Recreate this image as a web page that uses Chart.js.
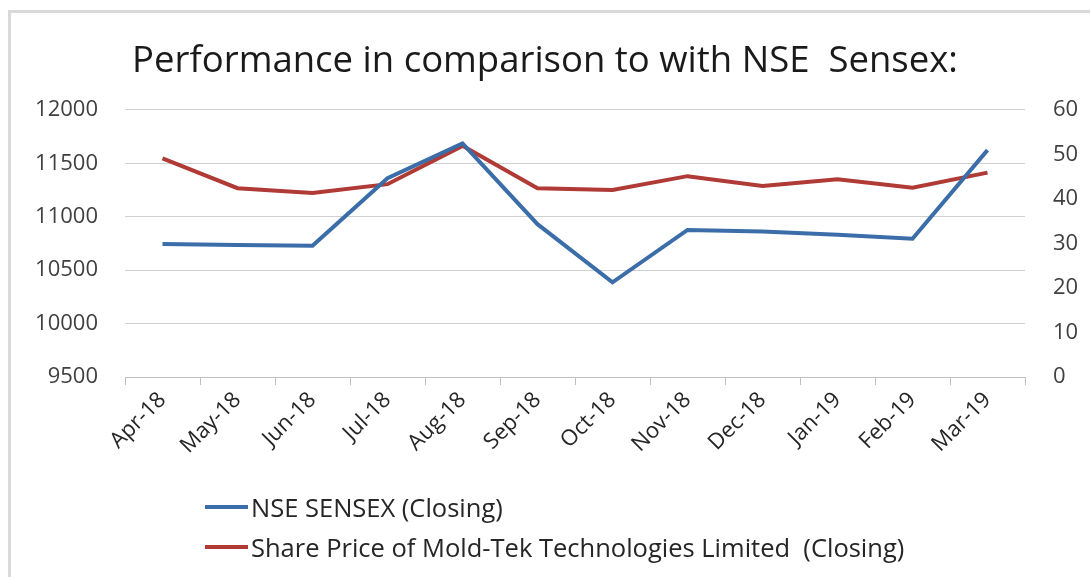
<!DOCTYPE html>
<html>
<head>
<meta charset="utf-8">
<script src="https://cdn.jsdelivr.net/npm/chart.js@4.4.1/dist/chart.umd.min.js"></script>
<style>
    html, body { margin: 0; padding: 0; background: #fff; }
    body { width: 1090px; height: 577px; overflow: hidden; position: relative; }
    .frame {
        position: absolute; left: 8px; top: 10px; width: 1200px; height: 700px;
        border-left: 3px solid #d9d9d9; border-top: 3px solid #d9d9d9;
    }
    #chartBox { position: absolute; left: 0; top: 0; width: 1090px; height: 577px; }
    #legend { position: absolute; left: 205px; top: 487px; font-family: "Open Sans", sans-serif; font-size: 25.5px; color: #262626; }
    .leg-row { display: flex; align-items: center; height: 40px; }
    .leg-line { width: 43px; height: 4px; margin-right: 3px; }
</style>
</head>
<body>
<div class="frame"></div>
<div id="chartBox"><canvas id="perfChart"></canvas></div>
<div id="legend"></div>
<script>
// Meses del eje X
const months = ["Apr-18", "May-18", "Jun-18", "Jul-18", "Aug-18", "Sep-18",
                "Oct-18", "Nov-18", "Dec-18", "Jan-19", "Feb-19", "Mar-19"];

// Cierre del NSE Sensex (eje izquierdo)
const sensexClose = [10745, 10736, 10727, 11360, 11685, 10930, 10386, 10876, 10862, 10831, 10793, 11623];

// Precio de la acción de Mold-Tek (eje derecho)
const moldTekClose = [49.1, 42.4, 41.3, 43.3, 51.9, 42.4, 42.0, 45.1, 42.9, 44.4, 42.5, 45.9];

// Marcas de los ejes
const leftTicks = [9500, 10000, 10500, 11000, 11500, 12000];
const rightTicks = [0, 10, 20, 30, 40, 50, 60];

const chartTitle = "Performance in comparison to with NSE  Sensex:";
const sensexLabel = "NSE SENSEX (Closing)";
const moldTekLabel = "Share Price of Mold-Tek Technologies Limited  (Closing)";

const blue = "#3b6ea9";
const red = "#b03a35";
const yFont = { family: "Open Sans", size: 22 };
const xFont = { family: "Open Sans", size: 22 };

const ctx = document.getElementById("perfChart").getContext("2d");

const chart = new Chart(ctx, {
    type: "line",
    data: {
        labels: months,
        datasets: [
            {
                label: sensexLabel,
                data: sensexClose,
                borderColor: blue,
                backgroundColor: blue,
                borderWidth: 4,
                pointRadius: 0,
                tension: 0,
                yAxisID: "y"
            },
            {
                label: moldTekLabel,
                data: moldTekClose,
                borderColor: red,
                backgroundColor: red,
                borderWidth: 4,
                pointRadius: 0,
                tension: 0,
                yAxisID: "y1"
            }
        ]
    },
    options: {
        responsive: true,
        maintainAspectRatio: false,
        animation: false,
        layout: { padding: { left: 0, right: 0, top: 0, bottom: 0 } },
        plugins: {
            legend: { display: false },
            tooltip: { enabled: false },
            title: {
                display: true,
                text: chartTitle,
                color: "#1a1a1a",
                font: { family: "Open Sans", size: 36.5, weight: "normal" },
                padding: { top: 40, bottom: 26 }
            }
        },
        scales: {
            x: {
                offset: true,
                grid: {
                    offset: true,
                    drawOnChartArea: false,
                    drawTicks: true,
                    tickLength: 8,
                    color: "#bfbfbf"
                },
                border: { display: true, color: "#bfbfbf", width: 1 },
                ticks: {
                    color: "#262626",
                    font: xFont,
                    maxRotation: 45,
                    minRotation: 45,
                    padding: 2,
                    autoSkip: false
                },
                afterFit: s => { s.height = 200; }
            },
            y: {
                position: "left",
                min: leftTicks[0],
                max: leftTicks[leftTicks.length - 1],
                afterBuildTicks: s => { s.ticks = leftTicks.map(v => ({ value: v })); },
                grid: { color: "#d0d0d0", drawTicks: false },
                border: { display: false },
                ticks: {
                    color: "#404040",
                    font: yFont,
                    padding: 27,
                    callback: v => String(v)
                },
                afterFit: s => { s.width = 125; }
            },
            y1: {
                position: "right",
                min: rightTicks[0],
                max: rightTicks[rightTicks.length - 1],
                afterBuildTicks: s => { s.ticks = rightTicks.map(v => ({ value: v })); },
                grid: { display: false, drawTicks: false },
                border: { display: false },
                ticks: {
                    color: "#404040",
                    font: yFont,
                    padding: 28,
                    callback: v => String(v)
                },
                afterFit: s => { s.width = 65; }
            }
        }
    }
});

// Leyenda en HTML, construida desde los datasets
(function buildLegend() {
    const box = document.getElementById("legend");
    chart.data.datasets.forEach(ds => {
        const row = document.createElement("div");
        row.className = "leg-row";
        row.innerHTML = `<span class="leg-line" style="background:${ds.borderColor}"></span><span style="white-space:pre">${ds.label}</span>`;
        box.appendChild(row);
    });
})();
</script>
</body>
</html>
